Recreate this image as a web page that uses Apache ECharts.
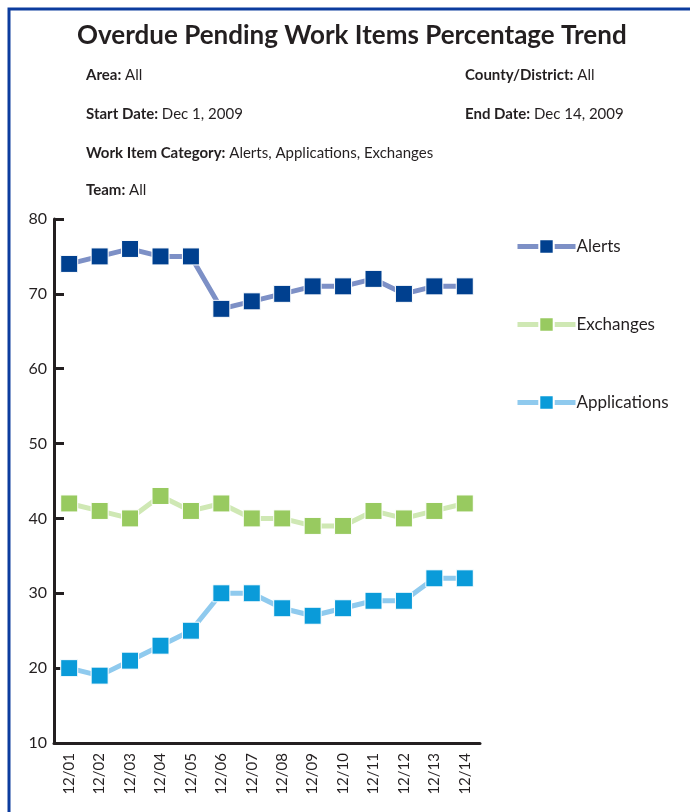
<!DOCTYPE html>
<html><head><meta charset="utf-8">
<script src="https://cdn.jsdelivr.net/npm/echarts@6/dist/echarts.min.js"></script>
<style>html,body{margin:0;padding:0;background:#fff}#c{width:690px;height:812px}</style>
</head><body><div id="c"></div>
<script>
var categories = ['12/01','12/02','12/03','12/04','12/05','12/06','12/07','12/08','12/09','12/10','12/11','12/12','12/13','12/14'];
var alerts = [74, 75, 76, 75, 75, 68, 69, 70, 71, 71, 72, 70, 71, 71];
var exchanges = [42, 41, 40, 43, 41, 42, 40, 40, 39, 39, 41, 40, 41, 42];
var applications = [20, 19, 21, 23, 25, 30, 30, 28, 27, 28, 29, 29, 32, 32];
var yTicks = [10, 20, 30, 40, 50, 60, 70, 80];

var FONT = 'Lato';
var chart = echarts.init(document.getElementById('c'));
function info(label, value, x, y) {
  return {
    left: x, top: y, padding: 0,
    text: '{b|' + label + '} {n|' + value + '}',
    textStyle: {
      fontWeight: 'normal', fontFamily: FONT, fontSize: 15,
      rich: {
        b: {fontFamily: FONT, fontWeight: 'bold', fontSize: 15, color: '#231f20'},
        n: {fontFamily: FONT, fontWeight: 'normal', fontSize: 15, color: '#231f20'}
      }
    }
  };
}
function series(name, data, lineColor, markColor) {
  return {
    name: name, type: 'line', data: data,
    symbol: 'rect', symbolSize: 17,
    lineStyle: {color: lineColor, width: 5},
    itemStyle: {color: markColor, borderColor: '#ffffff', borderWidth: 1},
    emphasis: {disabled: true},
    animation: false
  };
}
chart.setOption({
  animation: false,
  title: [
    {left: 77, top: 23, padding: 0, text: 'Overdue Pending Work Items Percentage Trend',
     textStyle: {fontFamily: FONT, fontWeight: 'bold', fontSize: 26, color: '#231f20'}},
    info('Area:', 'All', 86, 68),
    info('County/District:', 'All', 465, 68),
    info('Start Date:', 'Dec 1, 2009', 86, 107),
    info('End Date:', 'Dec 14, 2009', 465, 107),
    info('Work Item Category:', 'Alerts, Applications, Exchanges', 86, 146),
    info('Team:', 'All', 86, 183)
  ],
  graphic: [
    {type: 'rect', shape: {x: 9, y: 9, width: 800, height: 900},
     style: {fill: 'none', stroke: '#0c3c9e', lineWidth: 3}, silent: true}
  ],
  legend: {
    orient: 'vertical', left: 515, top: 238, itemGap: 61, padding: 0,
    itemWidth: 58, itemHeight: 18,
    lineStyle: {width: 5},
    textStyle: {fontFamily: FONT, fontSize: 17, color: '#231f20', padding: [0,0,0,-4]},
    data: ['Alerts', 'Exchanges', 'Applications']
  },
  grid: {left: 54, right: 210, top: 219, bottom: 69, containLabel: false},
  xAxis: {
    type: 'category', data: categories, boundaryGap: true,
    axisLine: {lineStyle: {color: '#231f20', width: 3}},
    axisTick: {inside: true, length: 11, lineStyle: {color: '#231f20', width: 3}},
    axisLabel: {rotate: 90, fontFamily: FONT, fontSize: 15, color: '#231f20', margin: 10}
  },
  yAxis: {
    type: 'value', min: 10, max: 80, interval: 10,
    splitLine: {show: false},
    axisLine: {show: true, lineStyle: {color: '#231f20', width: 3}},
    axisTick: {show: true, inside: true, length: 10, lineStyle: {color: '#231f20', width: 3}},
    axisLabel: {fontFamily: FONT, fontSize: 16, color: '#231f20', margin: 7,
      formatter: function (v) { return yTicks.indexOf(v) >= 0 ? String(v) : ''; }}
  },
  series: [
    series('Alerts', alerts, '#7d90c6', '#00408f'),
    series('Exchanges', exchanges, '#cfe8b4', '#98ca60'),
    series('Applications', applications, '#8fcaee', '#0a9bd9')
  ]
});
</script></body></html>
